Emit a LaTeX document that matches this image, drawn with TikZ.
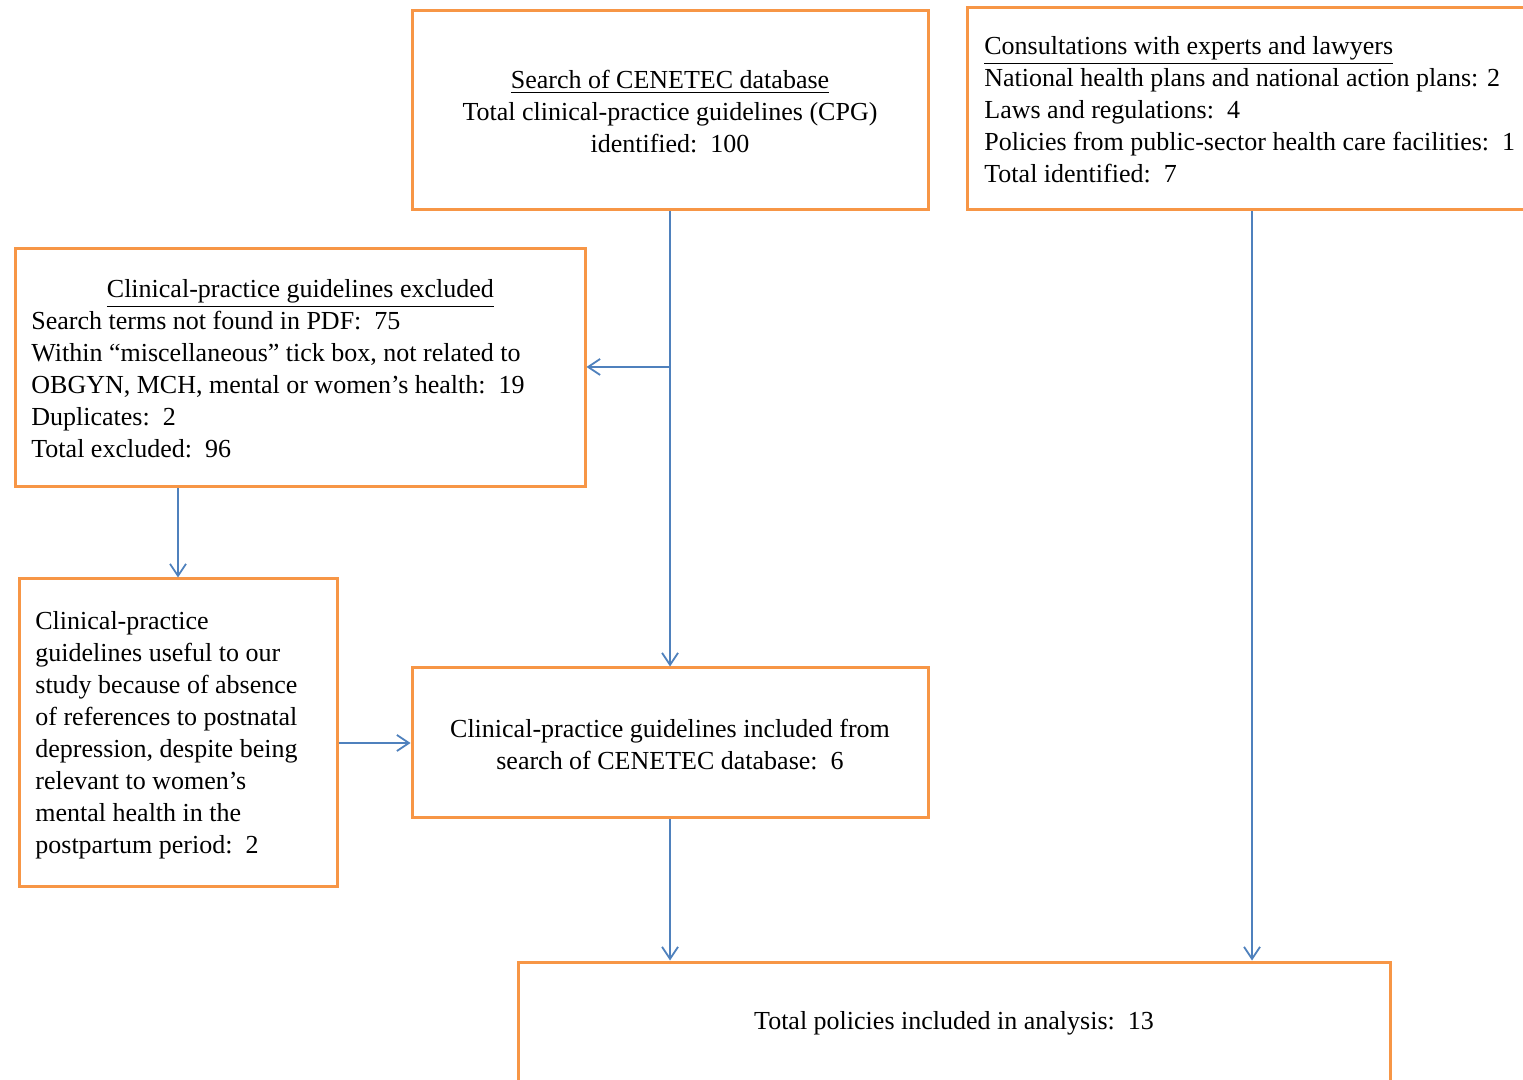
\documentclass[tikz,border=0pt]{standalone}
\usepackage{fontspec}
\setmainfont{Liberation Serif}
\usetikzlibrary{arrows.meta}
\definecolor{boxorange}{HTML}{F79646}
\definecolor{arrowblue}{HTML}{4F81BD}
\begin{document}
\begin{tikzpicture}[x=0.5pt,y=-0.5pt,
  box/.style={draw=boxorange,line width=1.5pt,rectangle,inner sep=0pt,fill=white},
  txt/.style={inner sep=0pt,font=\fontsize{13}{16}\selectfont},
  conn/.style={draw=arrowblue,line width=0.9pt,-{Straight Barb[length=6pt,width=8pt,line width=0.9pt]}}]
\clip (0,0) rectangle (1523,1080);
\fill[white] (0,0) rectangle (1523,1080);
% boxes
\node[box,minimum width=258pt,minimum height=99.5pt] (top) at (670,110.5) {};
\node[box,minimum width=285pt,minimum height=101pt] (tr) at (1252,109) {};
\node[box,minimum width=285pt,minimum height=119pt] (excl) at (300,368) {};
\node[box,minimum width=159pt,minimum height=154pt] (useful) at (178,733) {};
\node[box,minimum width=258pt,minimum height=75pt] (incl) at (670,743) {};
\node[box,minimum width=436pt,minimum height=61pt] (bot) at (954,1023) {};
% texts
\node[txt,align=center] (ttop) at (670,112) {\underline{Search of CENETEC\ database}\\Total\ clinical-practice\ guidelines (CPG)\\identified:\ \ 100};
\node[txt,align=left,anchor=west] (ttr) at (984,110) {\underline{Consultations with experts and lawyers}\\National health plans and national action plans: 2\\Laws and regulations:\ \ 4\\Policies\ from public-sector health care facilities:\ \ 1\\Total identified:\ \ 7};
\node[txt,align=left,anchor=west] (texcl) at (31,369) {\makebox[269pt][c]{\underline{Clinical-practice\ guidelines excluded}}\\Search terms not found in PDF:\ \ 75\\Within “miscellaneous” tick box, not related to\\OBGYN, MCH, mental or women’s health:\ \ 19\\Duplicates:\ \ 2\\Total\ excluded:\ \ 96};
\node[txt,align=left,anchor=west] (tuseful) at (35,735.5) {Clinical-practice\\guidelines useful to our\\study because of absence\\of references to postnatal\\depression, despite being\\relevant to women’s\\mental health in the\\postpartum period:\ \ 2};
\node[txt,align=center] (tincl) at (670,745) {Clinical-practice\ guidelines included from\\search of CENETEC\ database:\ \ 6};
\node[txt,align=center] (tbot) at (954,1023) {Total\ policies included in analysis:\ \ 13};
% connectors
\coordinate (br) at (670,367);
\coordinate (ua) at ([yshift=-5pt]useful.east);
\draw[conn] (top.south) -- (incl.north);
\draw[conn] (br) -- (br -| excl.east);
\draw[conn] (useful.north |- excl.south) -- (useful.north);
\draw[conn] (ua) -- (ua -| incl.west);
\draw[conn] (incl.south) -- (incl.south |- bot.north);
\draw[conn] (tr.south) -- (tr.south |- bot.north);
\end{tikzpicture}
\end{document}
